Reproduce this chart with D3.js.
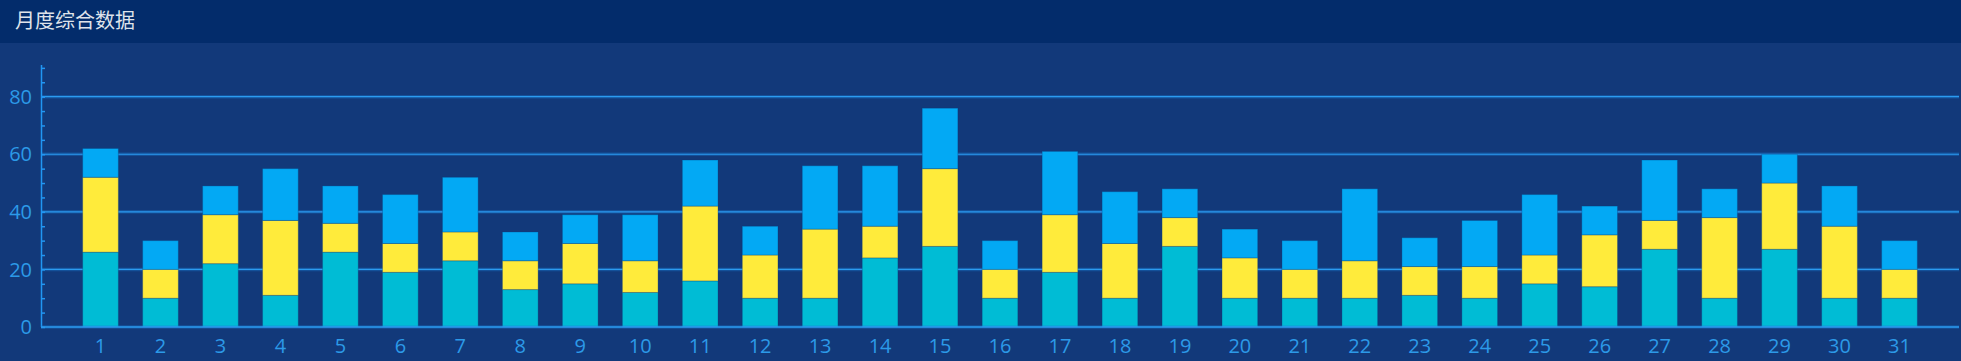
<!DOCTYPE html>
<html>
<head>
<meta charset="utf-8">
<script src="https://cdn.jsdelivr.net/npm/d3@7"></script>
<style>
  html, body { margin: 0; padding: 0; background: #12397a; }
  #chart { width: 1961px; height: 361px; }
</style>
</head>
<body>
<div id="chart"></div>
<script>
const days = d3.range(1, 32).map(String);
const seriesA = [26, 10, 22, 11, 26, 19, 23, 13, 15, 12, 16, 10, 10, 24, 28, 10, 19, 10, 28, 10, 10, 10, 11, 10, 15, 14, 27, 10, 27, 10, 10];
const seriesB = [26, 10, 17, 26, 10, 10, 10, 10, 14, 11, 26, 15, 24, 11, 27, 10, 20, 19, 10, 14, 10, 13, 10, 11, 10, 18, 10, 28, 23, 25, 10];
const seriesC = [10, 10, 10, 18, 13, 17, 19, 10, 10, 16, 16, 10, 22, 21, 21, 10, 22, 18, 10, 10, 10, 25, 10, 16, 21, 10, 21, 10, 10, 14, 10];
const yTicks = [0, 20, 40, 60, 80];
const title = "月度综合数据";

let WIDTH = 1961,
    HEIGHT = 361;

let svg = d3.select("#chart")
    .append("svg")
    .attr("width", WIDTH)
    .attr("height", HEIGHT)
    .style("display", "block");

// header band
svg.append("rect")
    .attr("width", WIDTH)
    .attr("height", 43)
    .attr("fill", "#032c6b");

svg.append("text")
    .attr("x", 15)
    .attr("y", 28)
    .attr("fill", "#dfe3ea")
    .style("font-family", "'Noto Sans CJK SC', sans-serif")
    .style("font-size", "20px")
    .text(title);

const plotLeft = 41, plotRight = 1959, plotTop = 65, plotBottom = 327;

let x = d3.scaleBand()
    .domain(days)
    .range([plotLeft, plotRight])
    .paddingInner(0.405)
    .paddingOuter(0.695);

let y = d3.scaleLinear()
    .domain([0, 91])
    .range([plotBottom, plotTop]);

const colors = ["#00bcd5", "#ffeb3b", "#03a9f4"];

let rows = days.map((d, i) => ({ day: d, a: seriesA[i], b: seriesB[i], c: seriesC[i] }));
let stack = d3.stack().keys(["a", "b", "c"])(rows);

// gridlines with a soft glow
let grid = svg.append("g");
yTicks.filter(t => t > 0).forEach(t => {
    grid.append("line")
        .attr("x1", plotLeft).attr("x2", plotRight)
        .attr("y1", y(t)).attr("y2", y(t))
        .attr("stroke", "#1a7fd6")
        .attr("stroke-opacity", 0.35)
        .attr("stroke-width", 3.5);
    grid.append("line")
        .attr("x1", plotLeft).attr("x2", plotRight)
        .attr("y1", y(t)).attr("y2", y(t))
        .attr("stroke", "#2b9bf0")
        .attr("stroke-width", 1.2);
});

svg.append("g")
    .selectAll("g")
    .data(stack)
    .enter()
    .append("g")
    .attr("fill", (d, i) => colors[i])
    .selectAll("rect")
    .data(d => d)
    .enter()
    .append("rect")
    .attr("x", d => x(d.data.day))
    .attr("width", x.bandwidth())
    .attr("y", d => y(d[1]))
    .attr("height", d => y(d[0]) - y(d[1]))
    .attr("stroke", "#0b3a7a")
    .attr("stroke-opacity", 0.3)
    .attr("stroke-width", 1);

// y axis
let yAxis = svg.append("g")
    .attr("transform", `translate(${plotLeft},0)`)
    .call(d3.axisRight(y)
        .tickValues(d3.range(0, 91, 5))
        .tickSize(4)
        .tickFormat(""));
yAxis.select(".domain")
    .attr("stroke", "#2196f3")
    .attr("stroke-width", 1.5)
    .attr("d", `M0.5,${plotTop}V${plotBottom}`);
yAxis.selectAll(".tick line")
    .attr("stroke", "#2196f3")
    .attr("stroke-width", 1.5);

svg.append("g")
    .selectAll("text")
    .data(yTicks)
    .enter()
    .append("text")
    .attr("x", 32)
    .attr("y", d => y(d))
    .attr("dy", "0.36em")
    .attr("text-anchor", "end")
    .attr("fill", "#2c9ae8")
    .style("font-family", "'Open Sans', sans-serif")
    .style("font-size", "20px")
    .text(d => d);

// x baseline
svg.append("line")
    .attr("x1", plotLeft).attr("x2", plotRight)
    .attr("y1", plotBottom).attr("y2", plotBottom)
    .attr("stroke", "#1a7fd6")
    .attr("stroke-opacity", 0.35)
    .attr("stroke-width", 3.5);
svg.append("line")
    .attr("x1", plotLeft).attr("x2", plotRight)
    .attr("y1", plotBottom).attr("y2", plotBottom)
    .attr("stroke", "#2b9bf0")
    .attr("stroke-width", 1.5);

svg.append("g")
    .selectAll("text")
    .data(days)
    .enter()
    .append("text")
    .attr("x", d => x(d) + x.bandwidth() / 2)
    .attr("y", 353)
    .attr("text-anchor", "middle")
    .attr("fill", "#2c9ae8")
    .style("font-family", "'Open Sans', sans-serif")
    .style("font-size", "20px")
    .text(d => d);
</script>
</body>
</html>
